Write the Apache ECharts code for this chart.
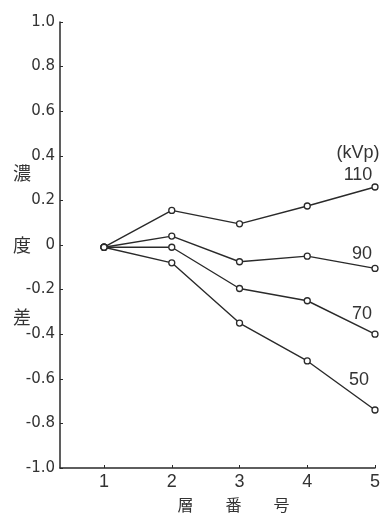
<!DOCTYPE html>
<html>
<head>
<meta charset="utf-8">
<script src="https://cdn.jsdelivr.net/npm/echarts@6/dist/echarts.min.js"></script>
<style>
  html, body { margin: 0; padding: 0; background: #fff; }
  #chart { width: 385px; height: 514px; }
</style>
</head>
<body>
<div id="chart"></div>
<script>
// Layer number (x) and concentration difference per tube voltage
const layers = [1, 2, 3, 4, 5];
const kv110 = [-0.01, 0.155, 0.095, 0.175, 0.26];
const kv90  = [-0.01, 0.04, -0.075, -0.05, -0.105];
const kv70  = [-0.01, -0.01, -0.195, -0.25, -0.40];
const kv50  = [-0.01, -0.08, -0.35, -0.52, -0.74];
const seriesNames = ['110', '90', '70', '50'];
const yTicks = [-1.0, -0.8, -0.6, -0.4, -0.2, 0, 0.2, 0.4, 0.6, 0.8, 1.0];

const ink = '#2a2a2a';
const textInk = '#333';
const font = '"Liberation Sans", "DejaVu Sans", sans-serif';
const tickFont = '"DejaVu Sans", "Liberation Sans", sans-serif';
const cjk = '"Noto Sans CJK JP", "Noto Sans CJK SC", sans-serif';

function makeSeries(name, values, endLabel) {
  const data = values.map((v, i) => [layers[i], v]);
  const last = data.length - 1;
  data[last] = {
    value: data[last],
    label: Object.assign({
      show: true,
      position: 'top',
      color: textInk,
      fontFamily: font,
      fontSize: 18
    }, endLabel)
  };
  return {
    name: name,
    type: 'line',
    data: data,
    symbol: 'circle',
    symbolSize: 6,
    itemStyle: { color: '#fff', borderColor: ink, borderWidth: 1.3 },
    lineStyle: { color: ink, width: 1.4 },
    label: { show: false },
    silent: true,
    animation: false
  };
}

const chart = echarts.init(document.getElementById('chart'), null, { renderer: 'canvas' });
chart.setOption({
  backgroundColor: '#fff',
  animation: false,
  grid: { left: 60, right: 10, top: 22, bottom: 46, containLabel: false, outerBoundsMode: 'none' },
  xAxis: {
    type: 'value',
    min: 0.35,
    max: 5,
    interval: 1,
    name: '層　　番　　号',
    nameLocation: 'middle',
    nameGap: 29,
    nameMoveOverlap: false,
    nameTextStyle: { fontFamily: cjk, fontSize: 16, color: textInk, padding: [0, 0, 0, 32] },
    axisLine: { show: true, onZero: false, lineStyle: { color: ink, width: 1.5 } },
    splitLine: { show: false },
    axisLabel: {
      fontFamily: font, fontSize: 18, color: textInk, margin: 5,
      customValues: layers,
      formatter: v => String(v)
    },
    axisTick: { show: true, inside: true, length: 3, customValues: layers, lineStyle: { color: ink } }
  },
  yAxis: {
    type: 'value',
    min: -1,
    max: 1,
    interval: 0.2,
    name: '濃\n度\n差',
    nameLocation: 'middle',
    nameRotate: 0,
    nameGap: 29,
    nameMoveOverlap: false,
    nameTextStyle: { fontFamily: cjk, fontSize: 18, color: textInk, lineHeight: 72 },
    axisLine: { show: true, onZero: false, lineStyle: { color: ink, width: 1.5 } },
    axisTick: { show: true, inside: true, length: 3, lineStyle: { color: ink } },
    splitLine: { show: false },
    axisLabel: {
      fontFamily: tickFont, fontSize: 15, color: textInk, margin: 5,
      customValues: yTicks,
      formatter: v => (Math.abs(v) < 1e-9 ? '0' : v.toFixed(1))
    }
  },
  series: [
    makeSeries(seriesNames[0], kv110, {
      formatter: '(kVp)\n' + seriesNames[0], lineHeight: 22, offset: [-17, 8], align: 'center'
    }),
    makeSeries(seriesNames[1], kv90, { formatter: seriesNames[1], offset: [-13, 3] }),
    makeSeries(seriesNames[2], kv70, { formatter: seriesNames[2], offset: [-13, -3] }),
    makeSeries(seriesNames[3], kv50, { formatter: seriesNames[3], offset: [-16, -12] })
  ]
});
</script>
</body>
</html>
